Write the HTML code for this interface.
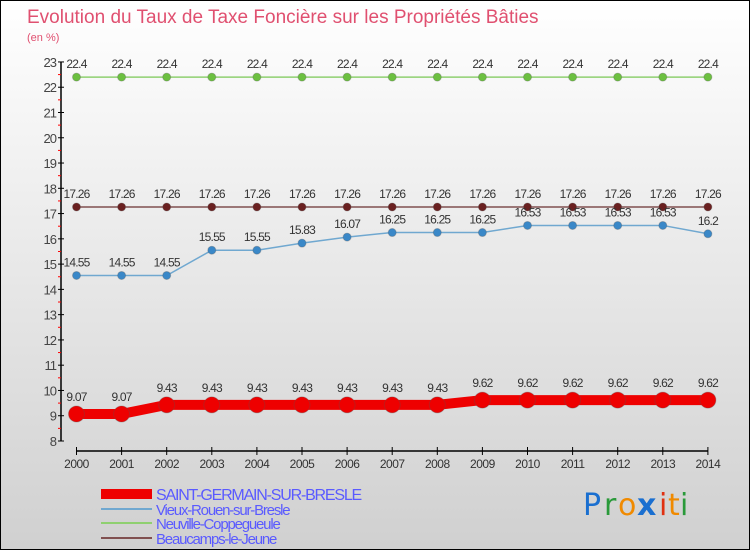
<!DOCTYPE html>
<html><head><meta charset="utf-8"><style>
body{margin:0;width:750px;height:550px;overflow:hidden;font-family:"Liberation Sans",sans-serif}
#wrap{position:relative;width:748px;height:548px;border:1px solid #000;background:linear-gradient(#ffffff,#d0d0d0)}
svg{position:absolute;left:0;top:0}
</style></head><body>
<div id="wrap">
<svg id="c" width="750" height="550">
<text x="26" y="22" font-size="19" fill="#e05070">Evolution du Taux de Taxe Foncière sur les Propriétés Bâties</text>
<text x="26" y="40" font-size="11" fill="#e05070">(en %)</text>
<g font-size="30" font-family="'DejaVu Sans',sans-serif">
<text x="582" y="514" fill="#1a6fd0">P</text><text x="603" y="514" fill="#2a9a3a">r</text><text x="617" y="514" fill="#f08a00">o</text><text x="636" y="514" fill="#1a6fd0" font-weight="bold">x</text><text x="658" y="514" fill="#e03010">i</text><text x="667" y="514" fill="#f08a00">t</text><text x="679" y="514" fill="#2a9a3a">i</text>
</g>
</svg>
</div>
<script>
const years=[2000,2001,2002,2003,2004,2005,2006,2007,2008,2009,2010,2011,2012,2013,2014];
const saint=[9.07,9.07,9.43,9.43,9.43,9.43,9.43,9.43,9.43,9.62,9.62,9.62,9.62,9.62,9.62];
const vieux=[14.55,14.55,14.55,15.55,15.55,15.83,16.07,16.25,16.25,16.25,16.53,16.53,16.53,16.53,16.2];
const neuville=[22.4,22.4,22.4,22.4,22.4,22.4,22.4,22.4,22.4,22.4,22.4,22.4,22.4,22.4,22.4];
const beau=[17.26,17.26,17.26,17.26,17.26,17.26,17.26,17.26,17.26,17.26,17.26,17.26,17.26,17.26,17.26];
const yTicks=[8,9,10,11,12,13,14,15,16,17,18,19,20,21,22,23];
const names=["SAINT-GERMAIN-SUR-BRESLE","Vieux-Rouen-sur-Bresle","Neuville-Coppegueule","Beaucamps-le-Jeune"];
const svg=document.getElementById('c');const NS='http://www.w3.org/2000/svg';
const X=i=>75.5+i*45.1;const Y=v=>440-(v-8)*25.27;
function mk(t,a,p){const e=document.createElementNS(NS,t);for(const k in a)e.setAttribute(k,a[k]);(p||svg).appendChild(e);return e;}
let g=mk('g',{});


mk('line',{x1:60,y1:Y(23),x2:60,y2:Y(8),stroke:'#000','stroke-width':1.5},g);
yTicks.forEach(v=>{mk('line',{x1:57,x2:63,y1:Y(v),y2:Y(v),stroke:'#000'},g);
 if(v<23)mk('line',{x1:57,x2:60,y1:Y(v+0.5),y2:Y(v+0.5),stroke:'#f00'},g);
 const t=mk('text',{x:55,y:Y(v)+5,'text-anchor':'end','font-size':13,fill:'#444','letter-spacing':'-1'},g);t.textContent=v;});
g=mk('g',{});


mk('line',{x1:X(0),x2:X(14),y1:450,y2:450,stroke:'#000','stroke-width':1.5},g);
years.forEach((y,i)=>{mk('line',{x1:X(i),x2:X(i),y1:446,y2:454,stroke:'#000'},g);
 const t=mk('text',{x:X(i),y:467,'text-anchor':'middle','font-size':12,fill:'#333','letter-spacing':'-0.5'},g);t.textContent=y;});
function series(data,color,w,r,name,fill){
 const s=mk('g',{});
 
 
 mk('polyline',{points:data.map((v,i)=>X(i)+','+Y(v)).join(' '),fill:'none',stroke:color,'stroke-width':w},s);
 data.forEach((v,i)=>{const c=mk('circle',{cx:X(i),cy:Y(v),r:r,fill:fill,stroke:'#555','stroke-opacity':0.3},s);
  
  
  const t=mk('text',{x:X(i),y:Y(v)-(r+5),'text-anchor':'middle','font-size':12,fill:'#333','letter-spacing':'-0.8'},s);t.textContent=v;});
}
series(neuville,'#8fd070',1.5,4,'series-neuville','#6cc040');
series(beau,'#805050',1.5,4,'series-beaucamps','#6a2020');
series(vieux,'#70a8d0',1.5,4,'series-vieux-rouen','#3a88c8');
series(saint,'#ee0000',10,8,'series-saint-germain','#ee0000');
const cols=['#ee0000','#70a8d0','#8fd070','#805050'];const ws=[10,2,2,2];const ly=[493,508,522,537];
names.forEach((n,i)=>{const l=mk('g',{});
 
 
 mk('line',{x1:100,x2:151,y1:ly[i],y2:ly[i],stroke:cols[i],'stroke-width':ws[i]},l);
 const t=mk('text',{x:155,y:ly[i]+6,'font-size':i==0?16:15,fill:'#5a5aff','letter-spacing':'-1.2'},l);t.textContent=n;});
</script>
</body></html>
